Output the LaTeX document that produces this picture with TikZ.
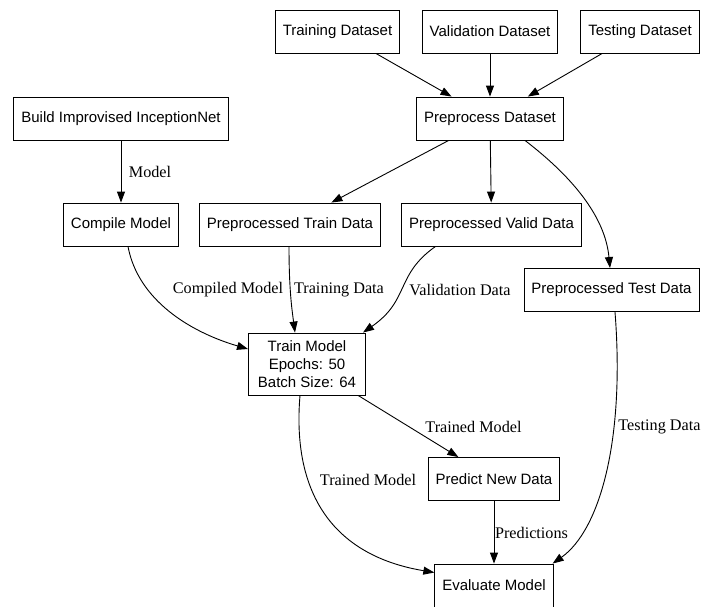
\documentclass[tikz,border=0pt]{standalone}
\usepackage{fontspec}
\setmainfont{Liberation Serif}
\setsansfont{Liberation Sans}
\usetikzlibrary{arrows.meta}

\begin{document}
\begin{tikzpicture}[x=1pt, y=-1pt, line width=0.9pt,
    box/.style={draw, rectangle, font=\sffamily\fontsize{15}{18}\selectfont, minimum height=43pt, inner xsep=7.5pt, align=center},
    lbl/.style={font=\fontsize{16.2}{18}\selectfont, inner sep=0pt},
    arr/.style={-{Triangle[length=11pt, width=8pt]}}]
    \useasboundingbox (0,0) rectangle (715,606);
    % Datasets
    \node[box] (trainset) at (337.5,31.5) {Training Dataset};
    \node[box] (validset) at (490,31.5) {Validation Dataset};
    \node[box] (testset) at (640,31.5) {Testing Dataset};
    \node[box] (prep) at (490,118.5) {Preprocess Dataset};
    \node[box] (build) at (121,118.5) {Build Improvised InceptionNet};
    % Second row
    \node[box] (compile) at (121,224.5) {Compile Model};
    \node[box] (ptrain) at (290,224.5) {Preprocessed Train Data};
    \node[box] (pvalid) at (491.5,224.5) {Preprocessed Valid Data};
    \node[box] (ptest) at (611.5,290) {Preprocessed Test Data};
    % Training and evaluation
    \node[box, minimum height=62pt, inner xsep=9.5pt] (train) at (307,364) {Train Model\\Epochs: 50\\Batch Size: 64};
    \node[box] (predict) at (494,479) {Predict New Data};
    \node[box] (evaluate) at (494,585.5) {Evaluate Model};
    % Edges
    \draw[arr] (trainset) -- (prep);
    \draw[arr] (validset) -- (prep);
    \draw[arr] (testset) -- (prep);
    \draw[arr] (build) -- (compile);
    \draw[arr] (prep) -- (ptrain);
    \draw[arr] (prep) -- (pvalid);
    \draw[arr] ([xshift=35pt]prep.south) .. controls (570,175) and (605,215) .. ([xshift=-1.5pt]ptest.north);
    \draw[arr] ([xshift=7pt]compile.south) .. controls (138,300) and (190,332) .. ([yshift=15pt]train.west);
    \draw[arr] ([xshift=-1pt]ptrain.south) .. controls (289,290) and (292,310) .. ([xshift=-12pt]train.north);
    \draw[arr] ([xshift=-56pt]pvalid.south) .. controls (395,275) and (410,300) .. ([xshift=56pt]train.north);
    \draw[arr] (train) -- (predict);
    \draw[arr] ([xshift=-7pt]train.south) .. controls (292,490) and (330,555) .. ([yshift=13pt]evaluate.west);
    \draw[arr] (predict) -- (evaluate);
    \draw[arr] ([xshift=3.5pt]ptest.south) .. controls (625,440) and (600,530) .. ([xshift=-1pt]evaluate.north east);
    % Edge labels
    \node[lbl] (lmodel) at (150,172) {Model};
    \node[lbl] (lcompiled) at (228,290) {Compiled Model};
    \node[lbl] (ltraining) at (339,290) {Training Data};
    \node[lbl] (lvalidation) at (460,290) {Validation Data};
    \node[lbl] (ltrained) at (473.5,427) {Trained Model};
    \node[lbl] (ltrainedeval) at (368,480) {Trained Model};
    \node[lbl] (ltesting) at (659.5,427) {Testing Data};
    \node[lbl] (lpred) at (531.5,533) {Predictions};
\end{tikzpicture}
\end{document}
